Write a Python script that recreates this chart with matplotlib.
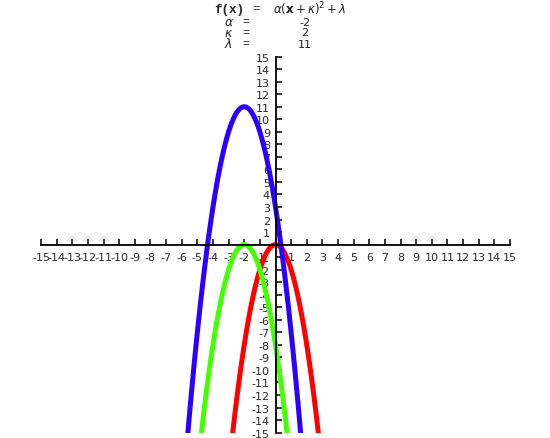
import numpy as np
import matplotlib
matplotlib.use('Agg')
import matplotlib.pyplot as plt

# parameters of each curve f(x) = alpha*(x+kappa)^2 + lambda
alphas = [-2, -2, -2]
kappas = [0, 2, 2]
lambdas = [0, 0, 11]
colors = ['#ff0000', '#44ff00', '#2a00ff']

x_ticks = list(range(-15, 16))
y_ticks = list(range(-15, 16))

fig = plt.figure(figsize=(5.5, 4.39), dpi=100)
ax = fig.add_axes([41 / 550, 5.4 / 439, 469 / 550, 376 / 439])

xs = np.linspace(-15, 15, 3001)
for a, k, l, c in zip(alphas, kappas, lambdas, colors):
    ax.plot(xs, a * (xs + k) ** 2 + l, color=c, lw=3.6, solid_capstyle='butt', zorder=3)

ax.set_xlim(-15, 15)
ax.set_ylim(-15, 15)
ax.spines['left'].set_position(('data', 0))
ax.spines['bottom'].set_position(('data', 0))
ax.spines['top'].set_visible(False)
ax.spines['right'].set_visible(False)
for s in ('left', 'bottom'):
    ax.spines[s].set_linewidth(1.3)
    ax.spines[s].set_zorder(4)

ax.set_xticks(x_ticks)
ax.set_xticklabels(['' if t == 0 else str(t) for t in x_ticks])
ax.set_yticks(y_ticks)
ax.set_yticklabels(['' if t == 0 else str(t) for t in y_ticks])
ax.tick_params(axis='x', direction='in', length=4, width=1.1, pad=5, labelsize=8, labelcolor='#2a2a2a')
ax.tick_params(axis='y', direction='in', length=4, width=1.1, pad=4, labelsize=8, labelcolor='#2a2a2a')
ax.patch.set_alpha(0)


def px(x, y):
    return x / 550, 1 - y / 439


# header text
mono = 'Liberation Mono'
tc = '#222222'
y0 = 9.5
fig.text(*px(214, y0), 'f(x)', family=mono, weight='bold', fontsize=9, va='center', color=tc)
fig.text(*px(256, y0), '=', family=mono, fontsize=9, va='center', ha='center', color=tc)
fig.text(*px(273, y0), r'$\alpha(\mathbf{x}+\kappa)^{2}+\lambda$', fontsize=8.5, va='center', color=tc)

rows = [(r'$\alpha$', str(alphas[2])), (r'$\kappa$', str(kappas[2])), (r'$\lambda$', str(lambdas[2]))]
for i, (name, val) in enumerate(rows):
    yy = 22.5 + 11 * i
    fig.text(*px(224, yy), name, fontsize=9, va='center', color=tc)
    fig.text(*px(246, yy), '=', family=mono, fontsize=8.5, va='center', ha='center', color=tc)
    fig.text(*px(305, yy), val, fontsize=8, va='center', ha='center', color=tc)

fig.savefig('out.png', dpi=100)
